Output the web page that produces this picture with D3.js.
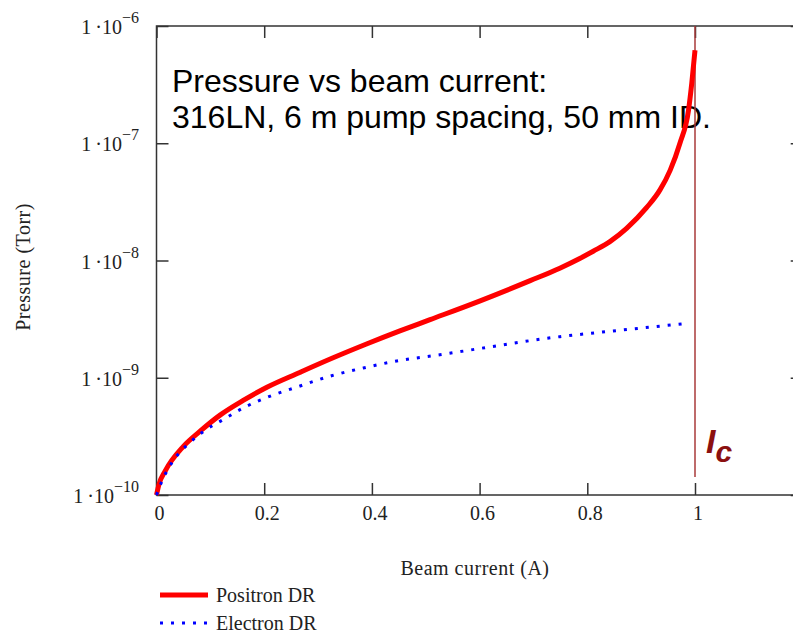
<!DOCTYPE html>
<html>
<head>
<meta charset="utf-8">
<script src="https://cdn.jsdelivr.net/npm/d3@7"></script>
<style>
  body { margin: 0; background: #fff; }
  .serif { font-family: "Liberation Serif", "Times New Roman", serif; }
  .sans { font-family: "Liberation Sans", Arial, sans-serif; }
</style>
</head>
<body>
<div id="chart"></div>
<script>
// Positron DR pressure (Torr) vs beam current (A)
const positronCurrent = [0, 0.005, 0.016, 0.05, 0.081, 0.118, 0.161, 0.205, 0.266, 0.328, 0.39, 0.452,
  0.508, 0.601, 0.694, 0.749, 0.786, 0.811, 0.842, 0.873, 0.91, 0.935, 0.954, 0.972, 0.988, 0.994, 1.0];
const positronPressure = [1e-10, 1.25e-10, 1.6e-10, 2.6e-10, 3.5e-10, 4.8e-10, 6.4e-10, 8.3e-10, 1.11e-9, 1.48e-9, 1.94e-9, 2.51e-9,
  3.13e-9, 4.53e-9, 6.73e-9, 8.6e-9, 1.04e-8, 1.2e-8, 1.45e-8, 1.88e-8, 2.82e-8, 4.0e-8, 5.9e-8, 1.0e-7, 1.92e-7, 3.25e-7, 6.2e-7];

// Electron DR pressure (Torr) vs beam current (A)
const electronCurrent = [0, 0.0065, 0.028, 0.062, 0.084, 0.124, 0.164, 0.205, 0.263, 0.325, 0.384, 0.446,
  0.526, 0.625, 0.725, 0.749, 0.827, 0.867, 0.988];
const electronPressure = [1e-10, 1.2e-10, 1.87e-10, 2.8e-10, 3.4e-10, 4.4e-10, 5.62e-10, 6.8e-10, 8.4e-10, 1.04e-9, 1.21e-9, 1.39e-9,
  1.57e-9, 1.85e-9, 2.17e-9, 2.24e-9, 2.45e-9, 2.56e-9, 2.92e-9];

const xTicks = [0, 0.2, 0.4, 0.6, 0.8, 1];
const xTickLabels = ["0", "0.2", "0.4", "0.6", "0.8", "1"];
const yTicks = [1e-10, 1e-9, 1e-8, 1e-7, 1e-6];
const yTickExponents = ["\u221210", "\u22129", "\u22128", "\u22127", "\u22126"];
const criticalCurrent = 1;

const titleLines = ["Pressure vs beam current:", "316LN, 6 m pump spacing, 50 mm ID."];
const legendNames = ["Positron DR", "Electron DR"];

// dimensions of the page and the plot frame
const W = 793, H = 634;
const plotLeft = 156.5, plotTop = 26, plotBottom = 495;
const plotRight = plotLeft + 538.5 * 1.2;

const svg = d3.select("#chart").append("svg")
  .attr("width", W)
  .attr("height", H);

// scales
const x = d3.scaleLinear().domain([0, 1.2]).range([plotLeft, plotRight]);
const y = d3.scaleLog().domain([1e-10, 1e-6]).range([plotBottom, plotTop]);

const axisColor = "#333";
const tickLen = 12;

// ticks on all four sides, pointing inward
svg.append("g")
  .attr("transform", "translate(0," + plotBottom + ")")
  .call(d3.axisBottom(x).tickValues(xTicks).tickSizeInner(-tickLen).tickSizeOuter(0).tickFormat(""))
  .call(g => g.select(".domain").remove());
svg.append("g")
  .attr("transform", "translate(0," + plotTop + ")")
  .call(d3.axisTop(x).tickValues(xTicks).tickSizeInner(-tickLen).tickSizeOuter(0).tickFormat(""))
  .call(g => g.select(".domain").remove());
svg.append("g")
  .attr("transform", "translate(" + plotLeft + ",0)")
  .call(d3.axisLeft(y).tickValues(yTicks).tickSizeInner(-tickLen).tickSizeOuter(0).tickFormat(""))
  .call(g => g.select(".domain").remove());
svg.append("g")
  .attr("transform", "translate(" + plotRight + ",0)")
  .call(d3.axisRight(y).tickValues(yTicks).tickSizeInner(-tickLen).tickSizeOuter(0).tickFormat(""))
  .call(g => g.select(".domain").remove());
svg.selectAll(".tick line").attr("stroke", axisColor).attr("stroke-width", 1.5);

// frame
svg.append("rect")
  .attr("x", plotLeft).attr("y", plotTop)
  .attr("width", plotRight - plotLeft).attr("height", plotBottom - plotTop)
  .attr("fill", "none")
  .attr("stroke", axisColor)
  .attr("stroke-width", 1.5);

// x tick labels
svg.selectAll(".xlab")
  .data(xTicks)
  .enter().append("text")
  .attr("class", "serif")
  .attr("x", d => x(d) + 3)
  .attr("y", 520)
  .attr("text-anchor", "middle")
  .style("font-size", "20px")
  .attr("fill", "#222")
  .text((d, i) => xTickLabels[i]);

// y tick labels as 1·10^n
const ylab = svg.selectAll(".ylab")
  .data(yTicks)
  .enter().append("text")
  .attr("class", "serif")
  .attr("x", 139)
  .attr("y", d => y(d) + 8)
  .attr("text-anchor", "end")
  .attr("fill", "#222")
  .style("font-size", "20px");
ylab.append("tspan").text("1\u2009\u00b710");
ylab.append("tspan")
  .attr("dy", -11)
  .style("font-size", "16px")
  .text((d, i) => yTickExponents[i]);

// axis titles
svg.append("text")
  .attr("class", "serif")
  .attr("x", 475).attr("y", 575)
  .attr("text-anchor", "middle")
  .style("font-size", "20px")
  .style("letter-spacing", "0.5px")
  .attr("fill", "#222")
  .text("Beam current (A)");

svg.append("text")
  .attr("class", "serif")
  .attr("transform", "translate(30,267) rotate(-90)")
  .attr("text-anchor", "middle")
  .style("font-size", "20px")
  .style("letter-spacing", "0.5px")
  .attr("fill", "#222")
  .text("Pressure (Torr)");

// title inside the plot (curves are drawn over it)
svg.append("text")
  .attr("class", "sans")
  .style("font-size", "32px")
  .attr("fill", "#000")
  .selectAll("tspan")
  .data(titleLines)
  .enter().append("tspan")
  .attr("x", 172)
  .attr("y", (d, i) => 92 + i * 36)
  .text(d => d);

// critical current marker
svg.append("line")
  .attr("x1", x(criticalCurrent)).attr("x2", x(criticalCurrent))
  .attr("y1", plotTop).attr("y2", 477)
  .attr("stroke", "#a83a3a")
  .attr("stroke-width", 1.5);

const ic = svg.append("text")
  .attr("class", "sans")
  .attr("x", x(criticalCurrent) + 11)
  .attr("y", 453)
  .attr("fill", "#8b1010")
  .style("font-size", "34px")
  .style("font-weight", "bold")
  .style("font-style", "italic");
ic.append("tspan").text("I");
ic.append("tspan").attr("dy", 9).style("font-size", "30px").text("c");

// curves
const line = d3.line()
  .x(d => x(d[0]))
  .y(d => y(d[1]))
  .curve(d3.curveMonotoneX);

const positron = positronCurrent.map((c, i) => [c, positronPressure[i]]);
const electron = electronCurrent.map((c, i) => [c, electronPressure[i]]);

svg.append("path")
  .datum(positron)
  .attr("d", line)
  .attr("fill", "none")
  .attr("stroke", "#ff0000")
  .attr("stroke-width", 5);

svg.append("path")
  .datum(electron)
  .attr("d", line)
  .attr("fill", "none")
  .attr("stroke", "#0000ff")
  .attr("stroke-width", 3)
  .attr("stroke-dasharray", "3,8");

// legend
const legend = svg.append("g");
legend.append("line")
  .attr("x1", 160).attr("x2", 208)
  .attr("y1", 595).attr("y2", 595)
  .attr("stroke", "#ff0000").attr("stroke-width", 5);
legend.append("line")
  .attr("x1", 160).attr("x2", 208)
  .attr("y1", 623).attr("y2", 623)
  .attr("stroke", "#0000ff").attr("stroke-width", 3)
  .attr("stroke-dasharray", "3,8");
legend.selectAll("text")
  .data(legendNames)
  .enter().append("text")
  .attr("class", "serif")
  .attr("x", 216)
  .attr("y", (d, i) => 602 + i * 28)
  .style("font-size", "20px")
  .attr("fill", "#222")
  .text(d => d);
</script>
</body>
</html>
